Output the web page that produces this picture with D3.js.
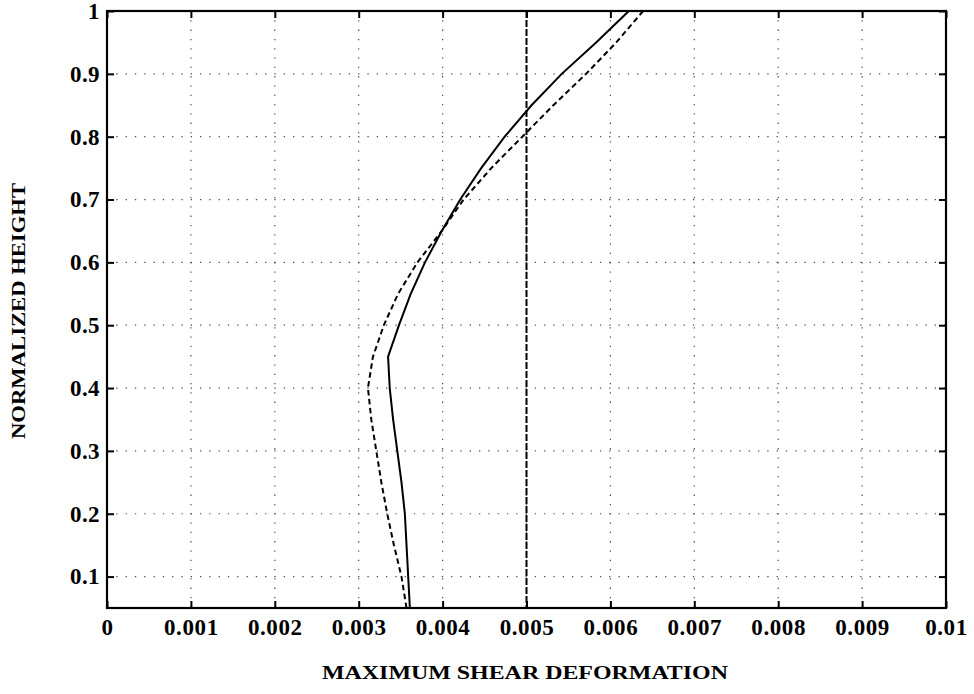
<!DOCTYPE html>
<html>
<head>
<meta charset="utf-8">
<script src="https://cdn.jsdelivr.net/npm/d3@7"></script>
<style>
  html, body { margin: 0; padding: 0; background: #fff; }
  svg { display: block; }
  text { font-family: "Liberation Serif", "Times New Roman", serif; font-weight: bold; fill: #000; }
</style>
</head>
<body>
<svg id="chart" width="974" height="694"></svg>
<script>
// Normalized height stations along the structure
const heights = [0.05, 0.1, 0.15, 0.2, 0.25, 0.3, 0.35, 0.4, 0.45, 0.5, 0.55, 0.6, 0.65, 0.7, 0.75, 0.8, 0.85, 0.9, 0.95, 1.0];

// Maximum shear deformation, solid curve
const solidShear = [0.00361, 0.00359, 0.00357, 0.00355, 0.00351, 0.00346, 0.00341, 0.00337, 0.00335, 0.00348, 0.00362, 0.00379, 0.00399, 0.00421, 0.00446, 0.00474, 0.00506, 0.00542, 0.00583, 0.00622];

// Maximum shear deformation, dashed curve
const dashedShear = [0.00357, 0.00351, 0.00342, 0.00334, 0.00327, 0.00321, 0.00315, 0.00311, 0.00317, 0.00330, 0.00347, 0.00370, 0.00399, 0.00425, 0.00458, 0.00495, 0.00532, 0.00571, 0.00607, 0.00639];

// Axis ticks
const xTicks = [0, 0.001, 0.002, 0.003, 0.004, 0.005, 0.006, 0.007, 0.008, 0.009, 0.01];
const xTickLabels = ["0", "0.001", "0.002", "0.003", "0.004", "0.005", "0.006", "0.007", "0.008", "0.009", "0.01"];
const yTicks = [0.1, 0.2, 0.3, 0.4, 0.5, 0.6, 0.7, 0.8, 0.9, 1];
const yTickLabels = ["0.1", "0.2", "0.3", "0.4", "0.5", "0.6", "0.7", "0.8", "0.9", "1"];
// Reference limit drawn as a vertical line
const limitLines = [0.005];

const svg = d3.select("#chart");
const plotL = 107, plotR = 946, plotT = 11, plotB = 608;

const x = d3.scaleLinear().domain([0, 0.01]).range([plotL, plotR]);
const y = d3.scaleLinear().domain([0.05, 1]).range([plotB, plotT]);

// Dotted grid
const grid = svg.append("g").attr("stroke", "#000").attr("stroke-width", 1.2)
  .attr("stroke-dasharray", "1.3,8").attr("opacity", 0.7);
grid.selectAll("line.gx").data(xTicks.slice(1, -1)).join("line")
  .attr("x1", d => x(d)).attr("x2", d => x(d)).attr("y1", plotT).attr("y2", plotB);
grid.selectAll("line.gy").data(yTicks.slice(0, -1)).join("line")
  .attr("y1", d => y(d)).attr("y2", d => y(d)).attr("x1", plotL).attr("x2", plotR);

// Vertical limit line
svg.append("g").selectAll("line").data(limitLines).join("line")
  .attr("x1", d => x(d)).attr("x2", d => x(d)).attr("y1", plotT).attr("y2", plotB)
  .attr("stroke", "#000").attr("stroke-width", 2).attr("stroke-dasharray", "7,2");

// Axes with inward ticks on all four sides
const fmtX = (d, i) => xTickLabels[i];
const fmtY = (d, i) => yTickLabels[i];
const axB = svg.append("g").attr("transform", `translate(0,${plotB})`)
  .call(d3.axisBottom(x).tickValues(xTicks).tickFormat(fmtX).tickSizeInner(-7).tickSizeOuter(0).tickPadding(11));
const axT = svg.append("g").attr("transform", `translate(0,${plotT})`)
  .call(d3.axisTop(x).tickValues(xTicks).tickFormat("").tickSizeInner(-7).tickSizeOuter(0));
const axL = svg.append("g").attr("transform", `translate(${plotL},0)`)
  .call(d3.axisLeft(y).tickValues(yTicks).tickFormat(fmtY).tickSizeInner(-7).tickSizeOuter(0).tickPadding(7));
const axR = svg.append("g").attr("transform", `translate(${plotR},0)`)
  .call(d3.axisRight(y).tickValues(yTicks).tickFormat("").tickSizeInner(-7).tickSizeOuter(0));

[axB, axT, axL, axR].forEach(a => {
  a.select(".domain").remove();
  a.selectAll(".tick line").attr("stroke", "#000").attr("stroke-width", 2);
});
axB.selectAll(".tick text")
  .style("font-family", "'Liberation Serif', serif").style("font-weight", "bold")
  .style("font-size", "23px").attr("letter-spacing", "0.6px").attr("fill", "#000");
axL.selectAll(".tick text")
  .style("font-family", "'Liberation Serif', serif").style("font-weight", "bold")
  .style("font-size", "23px").attr("letter-spacing", "0.4px").attr("fill", "#000");

// Plot frame
svg.append("rect").attr("x", plotL).attr("y", plotT)
  .attr("width", plotR - plotL).attr("height", plotB - plotT)
  .attr("fill", "none").attr("stroke", "#000").attr("stroke-width", 2.2);

// Curves
const line = d3.line().x(d => x(d[0])).y(d => y(d[1]));
svg.append("path").datum(d3.zip(solidShear, heights)).attr("d", line)
  .attr("fill", "none").attr("stroke", "#000").attr("stroke-width", 2);
svg.append("path").datum(d3.zip(dashedShear, heights)).attr("d", line)
  .attr("fill", "none").attr("stroke", "#000").attr("stroke-width", 2)
  .attr("stroke-dasharray", "5.5,3.5");

// Axis titles
svg.append("text").attr("x", 525).attr("y", 679).attr("text-anchor", "middle")
  .style("font-size", "19px").attr("textLength", 406).attr("lengthAdjust", "spacingAndGlyphs")
  .text("MAXIMUM SHEAR DEFORMATION");
svg.append("text").attr("transform", "translate(25,311) rotate(-90)").attr("text-anchor", "middle")
  .style("font-size", "18px").attr("textLength", 256).attr("lengthAdjust", "spacingAndGlyphs")
  .text("NORMALIZED HEIGHT");
</script>
</body>
</html>
